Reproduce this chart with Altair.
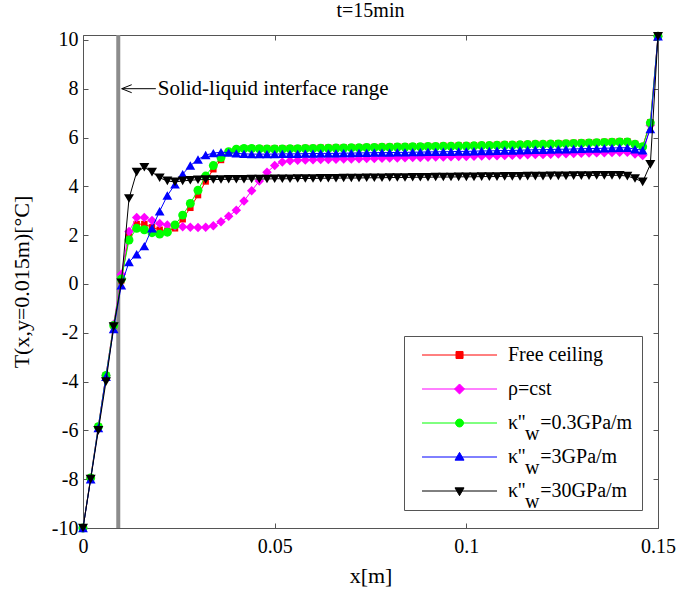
import altair as alt
import pandas as pd

# ---------------- data ----------------
X_M = [
    0.000, 0.002, 0.004, 0.006, 0.008, 0.010, 0.012, 0.014, 0.016, 0.018,
    0.020, 0.022, 0.024, 0.026, 0.028, 0.030, 0.032, 0.034, 0.036, 0.038,
    0.040, 0.042, 0.044, 0.046, 0.048, 0.050, 0.052, 0.054, 0.056, 0.058,
    0.060, 0.062, 0.064, 0.066, 0.068, 0.070, 0.072, 0.074, 0.076, 0.078,
    0.080, 0.082, 0.084, 0.086, 0.088, 0.090, 0.092, 0.094, 0.096, 0.098,
    0.100, 0.102, 0.104, 0.106, 0.108, 0.110, 0.112, 0.114, 0.116, 0.118,
    0.120, 0.122, 0.124, 0.126, 0.128, 0.130, 0.132, 0.134, 0.136, 0.138,
    0.140, 0.142, 0.144, 0.146, 0.148, 0.150,
]

T_FREE = [
    -10.0, -7.95, -5.85, -3.75, -1.70, 0.15, 2.00, 2.45, 2.45, 2.32,
    2.22, 2.18, 2.28, 2.65, 3.12, 3.64, 4.20, 4.70, 5.08, 5.38,
    5.52, 5.56, 5.56, 5.55, 5.55, 5.55, 5.55, 5.56, 5.56, 5.57,
    5.57, 5.58, 5.58, 5.59, 5.59, 5.60, 5.60, 5.61, 5.61, 5.62,
    5.62, 5.63, 5.63, 5.64, 5.64, 5.65, 5.65, 5.66, 5.66, 5.67,
    5.67, 5.68, 5.69, 5.69, 5.70, 5.71, 5.71, 5.72, 5.73, 5.74,
    5.74, 5.75, 5.76, 5.77, 5.78, 5.79, 5.80, 5.81, 5.82, 5.83,
    5.84, 5.84, 5.74, 5.64, 6.62, 10.15,
]

T_RHO = [
    -10.0, -7.95, -5.85, -3.75, -1.65, 0.40, 2.15, 2.72, 2.72, 2.60,
    2.48, 2.42, 2.37, 2.34, 2.32, 2.31, 2.32, 2.38, 2.55, 2.77,
    3.02, 3.40, 3.82, 4.22, 4.58, 4.85, 5.00, 5.05, 5.07, 5.08,
    5.09, 5.10, 5.10, 5.11, 5.12, 5.12, 5.13, 5.14, 5.14, 5.15,
    5.16, 5.16, 5.17, 5.18, 5.18, 5.19, 5.20, 5.20, 5.21, 5.22,
    5.22, 5.23, 5.24, 5.25, 5.25, 5.26, 5.27, 5.28, 5.29, 5.30,
    5.30, 5.31, 5.32, 5.33, 5.34, 5.35, 5.36, 5.37, 5.38, 5.39,
    5.40, 5.40, 5.32, 5.26, 6.50, 10.15,
]

T_K03 = [
    -10.0, -7.95, -5.85, -3.75, -1.70, 0.20, 1.80, 2.28, 2.22, 2.10,
    2.04, 2.12, 2.42, 2.82, 3.30, 3.84, 4.42, 4.85, 5.18, 5.42,
    5.52, 5.55, 5.55, 5.54, 5.53, 5.53, 5.53, 5.54, 5.54, 5.55,
    5.55, 5.56, 5.56, 5.57, 5.57, 5.58, 5.58, 5.59, 5.59, 5.60,
    5.60, 5.61, 5.61, 5.62, 5.62, 5.63, 5.63, 5.64, 5.64, 5.65,
    5.65, 5.66, 5.67, 5.67, 5.68, 5.69, 5.69, 5.70, 5.71, 5.72,
    5.72, 5.73, 5.74, 5.75, 5.76, 5.77, 5.78, 5.79, 5.80, 5.81,
    5.82, 5.82, 5.72, 5.62, 6.60, 10.15,
]

T_K3 = [
    -10.0, -8.00, -5.90, -3.80, -1.85, -0.05, 0.90, 1.22, 1.55, 2.28,
    2.98, 3.62, 4.08, 4.50, 4.85, 5.10, 5.28, 5.36, 5.40, 5.38,
    5.35, 5.33, 5.32, 5.32, 5.32, 5.32, 5.33, 5.33, 5.33, 5.34,
    5.34, 5.35, 5.35, 5.35, 5.36, 5.36, 5.37, 5.37, 5.38, 5.38,
    5.38, 5.39, 5.39, 5.40, 5.40, 5.41, 5.41, 5.42, 5.42, 5.43,
    5.43, 5.44, 5.45, 5.45, 5.46, 5.47, 5.47, 5.48, 5.49, 5.50,
    5.50, 5.51, 5.52, 5.52, 5.53, 5.54, 5.55, 5.55, 5.56, 5.57,
    5.58, 5.58, 5.52, 5.48, 6.35, 10.15,
]

T_K30 = [
    -10.0, -8.00, -6.00, -4.00, -1.75, 0.05, 3.50, 4.58, 4.78, 4.58,
    4.35, 4.22, 4.18, 4.22, 4.25, 4.27, 4.28, 4.28, 4.28, 4.29,
    4.29, 4.29, 4.30, 4.30, 4.30, 4.31, 4.31, 4.31, 4.32, 4.32,
    4.32, 4.33, 4.33, 4.33, 4.34, 4.34, 4.34, 4.35, 4.35, 4.35,
    4.36, 4.36, 4.36, 4.37, 4.37, 4.37, 4.38, 4.38, 4.38, 4.39,
    4.39, 4.39, 4.40, 4.40, 4.40, 4.41, 4.41, 4.41, 4.42, 4.42,
    4.42, 4.43, 4.43, 4.43, 4.44, 4.44, 4.44, 4.45, 4.45, 4.45,
    4.45, 4.42, 4.32, 4.18, 4.90, 10.15,
]

SERIES_NAMES = ["Free ceiling", "ρ=cst", "κ''w=0.3GPa/m", "κ''w=3GPa/m", "κ''w=30GPa/m"]
SERIES_VALUES = [T_FREE, T_RHO, T_K03, T_K3, T_K30]
SUBSCRIPT_KEYS = ["s1", "s2", "s3", "s4", "s5"]
SUBSCRIPTED = ["s3", "s4", "s5"]

INTERFACE_X = [0.0092]
ANNOT_LABEL = ["Solid-liquid interface range"]
ANNOT_T = [8.0]
ARROW_TIP_X = [0.0101]
ARROW_TAIL_X = [0.0190]
ANNOT_TEXT_X = [0.0195]

# ---------------- styles ----------------
SERIF = "Liberation Serif"
COLORS = ["#ff0000", "#ff00ff", "#00ff00", "#0000ff", "#000000"]
SHAPES = ["square", "diamond", "circle", "triangle-up", "triangle-down"]
SIZES = [42, 90, 80, 95, 100]
LEG_LINE = "M-1.07,0M-0.13,0L9.87,0"
LEG_PATHS = [
    LEG_LINE + "M4.4,-0.47H5.34V0.47H4.4Z",
    LEG_LINE + "M4.87,-0.67L5.54,0L4.87,0.67L4.2,0Z",
    LEG_LINE + "M4.34,0A0.53,0.53 0 1,0 5.4,0A0.53,0.53 0 1,0 4.34,0Z",
    LEG_LINE + "M4.87,-0.62L5.47,0.42L4.27,0.42Z",
    LEG_LINE + "M4.87,0.62L5.47,-0.42L4.27,-0.42Z",
]
PLOT_W, PLOT_H = 575, 493
FRAME = "#555555"
LEG_X, LEG_Y = 321, 301
SUB_SHIFT_X, SUB_DROP = 17, 11

rows = []
for name, vals in zip(SERIES_NAMES, SERIES_VALUES):
    for xv, tv in zip(X_M, vals):
        rows.append({"series": name, "x": xv, "T": tv})
df = pd.DataFrame(rows)

x_scale = alt.Scale(domain=[0, 0.15], nice=False, zero=False)
y_scale = alt.Scale(domain=[-10, 10.2], nice=False, zero=False)

common_axis = dict(
    grid=True, gridColor=FRAME, gridWidth=1, gridOpacity=1,
    ticks=False, tickSize=0, domain=False, labelFlush=False, labelOverlap=False,
    labelFont=SERIF, labelFontSize=20, labelColor="black",
    titleFont=SERIF, titleFontSize=22, titleFontWeight="normal", titleColor="black",
    labelExpr="datum.value + ''",
)
x_axis = alt.Axis(values=[0, 0.05, 0.1, 0.15], title="x[m]",
                  gridDash=[5, PLOT_H - 10, 5, 200], labelPadding=8, titlePadding=9,
                  **common_axis)
y_axis = alt.Axis(values=[-10, -8, -6, -4, -2, 0, 2, 4, 6, 8, 10], title="T(x,y=0.015m)[°C]",
                  gridDash=[5, PLOT_W - 10, 5, 200], labelPadding=5, titlePadding=18,
                  **common_axis)

X = alt.X("x:Q", scale=x_scale, axis=x_axis)
Y = alt.Y("T:Q", scale=y_scale, axis=y_axis)

NB = "\u00a0"
MAIN_LABEL_EXPR = "replace(datum.label, 'w=', '" + NB * 3 + "=')"
SUB_LABEL_EXPR = ("indexof(" + str(SUBSCRIPTED).replace('"', "'") + ", datum.label) >= 0 ? '"
                  + NB * 3 + "\u2009w' : '" + NB + "'")

legend_common = dict(
    title=None, orient="none", direction="vertical", padding=9,
    labelFont=SERIF, labelFontSize=20, labelColor="black", labelOffset=75, labelLimit=400,
    rowPadding=14, symbolSize=225, symbolStrokeWidth=1,
)

layers = []
rule_df = pd.DataFrame({"x": INTERFACE_X})
layers.append(alt.Chart(rule_df).mark_rule(color="#8c8c8c", strokeWidth=4).encode(x=X))
for name, color, shape, size in zip(SERIES_NAMES, COLORS, SHAPES, SIZES):
    sub = df[df["series"] == name]
    base = alt.Chart(sub).encode(x=X, y=Y)
    layers.append(base.mark_line(color=color, strokeWidth=1))
    layers.append(base.mark_point(shape=shape, filled=True, size=size, color=color, opacity=1))

arrow_df = pd.DataFrame({"x": ARROW_TIP_X, "x2": ARROW_TAIL_X, "T": ANNOT_T})
layers.append(alt.Chart(arrow_df).mark_rule(color="black", strokeWidth=1).encode(x=X, x2="x2:Q", y=Y))
layers.append(alt.Chart(arrow_df).mark_point(shape="M0,0L2,-0.8M0,0L2,0.8", filled=False, size=100,
                                             color="black", strokeWidth=1, opacity=1).encode(x=X, y=Y))
text_df = pd.DataFrame({"x": ANNOT_TEXT_X, "T": ANNOT_T, "label": ANNOT_LABEL})
layers.append(alt.Chart(text_df).mark_text(align="left", baseline="middle", font=SERIF, fontSize=21,
                                           color="black").encode(x=X, y=Y, text="label:N"))

# main legend (line + marker symbols, labels)
leg_main = alt.Legend(legendX=LEG_X, legendY=LEG_Y, strokeColor=FRAME, fillColor="white",
                      labelExpr=MAIN_LABEL_EXPR, **legend_common)
leg_df = pd.DataFrame({"series": SERIES_NAMES})
layers.append(
    alt.Chart(leg_df).transform_filter("false").mark_point(filled=True, strokeWidth=1, opacity=1).encode(
        fill=alt.Fill("series:N", scale=alt.Scale(domain=SERIES_NAMES, range=COLORS), legend=leg_main),
        stroke=alt.Stroke("series:N", scale=alt.Scale(domain=SERIES_NAMES, range=COLORS), legend=leg_main),
        shape=alt.Shape("series:N", scale=alt.Scale(domain=SERIES_NAMES, range=LEG_PATHS), legend=leg_main),
    )
)
# subscript legend (invisible symbols, only the lowered "w")
leg_sub = alt.Legend(legendX=LEG_X + SUB_SHIFT_X, legendY=LEG_Y + SUB_DROP, symbolOpacity=0,
                     symbolType=LEG_PATHS[0], labelExpr=SUB_LABEL_EXPR, **legend_common)
sub_df = pd.DataFrame({"sub": SUBSCRIPT_KEYS})
layers.append(
    alt.Chart(sub_df).transform_filter("false").mark_point(filled=True, strokeWidth=1, opacity=1).encode(
        color=alt.Color("sub:N", scale=alt.Scale(domain=SUBSCRIPT_KEYS, range=["#ffffff"] * 5), legend=leg_sub),
    )
)

chart = alt.layer(*layers).properties(
    width=PLOT_W, height=PLOT_H,
    autosize=alt.AutoSizeParams(type="none"),
    padding={"left": 83, "top": 35, "right": 20, "bottom": 64},
    title=alt.TitleParams("t=15min", font=SERIF, fontSize=20, fontWeight="normal", color="black",
                          anchor="middle", offset=-7, baseline="alphabetic"),
).configure(
    background="white", font=SERIF
).configure_view(
    stroke=FRAME, strokeWidth=1
).configure_axis(
    labelFont=SERIF, titleFont=SERIF
).configure_legend(
    labelFont=SERIF
).configure_title(
    font=SERIF
)

chart.save("out.html", embed_options={"renderer": "svg", "actions": False})
